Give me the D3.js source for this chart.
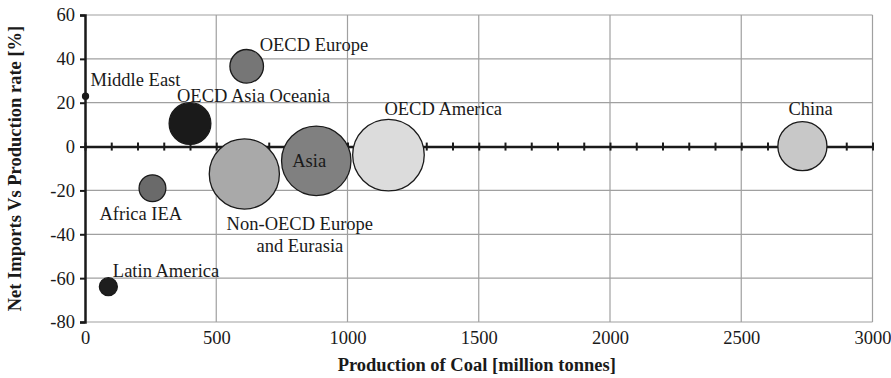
<!DOCTYPE html>
<html>
<head>
<meta charset="utf-8">
<script src="https://cdn.jsdelivr.net/npm/d3@7"></script>
<style>
  html, body { margin: 0; padding: 0; background: #fff; }
  svg text { font-family: "Liberation Serif", "Times New Roman", Tinos, "DejaVu Serif", serif !important; }
</style>
</head>
<body>
<svg id="chart" width="891" height="378"></svg>
<script>
// Regional coal data: production, net imports share, bubble size
const regions = ["Middle East", "OECD Europe", "OECD Asia Oceania", "Africa IEA", "Latin America",
                 "Non-OECD Europe and Eurasia", "Asia", "OECD America", "China"];
const production = [2, 616, 400, 257, 89, 607, 881, 1156, 2733];
const netImports = [23, 36.6, 10.5, -19, -63.9, -12.5, -6.5, -3.9, 0.2];
const bubbleSize = [0.7, 22, 34, 14, 6.3, 96, 94, 100, 47];
const fills = ["#1a1a1a", "#767676", "#1a1a1a", "#6a6a6a", "#1e1e1e", "#a9a9a9", "#808080", "#dcdcdc", "#c8c8c8"];
const xTicks = [0, 500, 1000, 1500, 2000, 2500, 3000];
const yTicks = [-80, -60, -40, -20, 0, 20, 40, 60];

const labelLines = [["Middle East"], ["OECD Europe"], ["OECD Asia Oceania"], ["Africa IEA"], ["Latin America"],
                    ["Non-OECD Europe", "and Eurasia"], ["Asia"], ["OECD America"], ["China"]];

const svg = d3.select("#chart");
const margin = { left: 85, right: 18, top: 15, bottom: 56 };
const W = 891, H = 378;
const FS = 18.5;

const x = d3.scaleLinear().domain([0, 3000]).range([margin.left, W - margin.right - 0.5]);
const y = d3.scaleLinear().domain([-80, 60]).range([H - margin.bottom, margin.top]);
const r = d3.scaleSqrt().domain([0, 100]).range([0, 35.8]);

// Gridlines
const grid = svg.append("g");
grid.selectAll("line.h").data(yTicks).join("line")
  .attr("x1", x(0)).attr("x2", x(3000))
  .attr("y1", d => y(d)).attr("y2", d => y(d))
  .attr("stroke", "#a0a0a0").attr("stroke-width", 1.2);
grid.selectAll("line.v").data(xTicks.filter(d => d > 0)).join("line")
  .attr("x1", d => x(d)).attr("x2", d => x(d))
  .attr("y1", y(60)).attr("y2", y(-80))
  .attr("stroke", "#a0a0a0").attr("stroke-width", 1.2);

// Left axis with outer ticks
const yAxis = d3.axisLeft(y).tickValues(yTicks).tickSize(5).tickPadding(5).tickFormat(d => String(d));
const gy = svg.append("g").attr("transform", `translate(${x(0)},0)`).call(yAxis);
gy.select(".domain").attr("stroke", "#1a1a1a").attr("stroke-width", 2.5);
gy.selectAll(".tick line").attr("stroke", "#1a1a1a").attr("stroke-width", 2);
gy.selectAll(".tick text").attr("font-size", FS).attr("fill", "#1a1a1a");

// Bottom tick labels (no axis line; bottom gridline acts as the frame)
const xAxis = d3.axisBottom(x).tickValues(xTicks).tickSize(0).tickPadding(9).tickFormat(d => String(d));
const gx = svg.append("g").attr("transform", `translate(0,${y(-80)})`).call(xAxis);
gx.select(".domain").remove();
gx.selectAll(".tick text").attr("font-size", FS).attr("fill", "#1a1a1a");

// Zero line with crossing ticks every 100
const zeroAxis = d3.axisBottom(x).tickValues(d3.range(0, 3001, 100)).tickSizeInner(0).tickSizeOuter(0).tickFormat("");
const gz = svg.append("g").attr("transform", `translate(0,${y(0)})`).call(zeroAxis);
gz.select(".domain").attr("stroke", "#1a1a1a").attr("stroke-width", 2.5);
gz.selectAll(".tick line").attr("y1", -4).attr("y2", 4).attr("stroke", "#1a1a1a").attr("stroke-width", 2);

// Bubbles
const data = regions.map((name, i) => ({ name, px: production[i], ny: netImports[i], s: bubbleSize[i], fill: fills[i], lines: labelLines[i] }));
svg.append("g").selectAll("circle").data(data).join("circle")
  .attr("cx", d => x(d.px)).attr("cy", d => y(d.ny)).attr("r", d => r(d.s))
  .attr("fill", d => d.fill).attr("stroke", "#1a1a1a").attr("stroke-width", 1.3);

// Data labels, offset from each bubble centre
const labelPos = {
  "Middle East": { dx: 5, dy: -10, anchor: "start" },
  "OECD Europe": { dx: 13, dy: -15, anchor: "start" },
  "OECD Asia Oceania": { dx: -13, dy: -22, anchor: "start" },
  "Africa IEA": { dx: -53, dy: 32, anchor: "start" },
  "Latin America": { dx: 4.5, dy: -10, anchor: "start" },
  "Non-OECD Europe and Eurasia": { dx: 55.5, dy: 56, anchor: "middle", lh: 21.7 },
  "Asia": { dx: -24, dy: 6, anchor: "start" },
  "OECD America": { dx: -4, dy: -40, anchor: "start" },
  "China": { dx: -14, dy: -31, anchor: "start" }
};
const labels = svg.append("g").attr("font-size", FS).attr("fill", "#1a1a1a");
data.forEach(d => {
  const p = labelPos[d.name];
  const t = labels.append("text")
    .attr("x", x(d.px) + p.dx).attr("y", y(d.ny) + p.dy)
    .attr("text-anchor", p.anchor);
  d.lines.forEach((ln, k) => {
    t.append("tspan").attr("x", x(d.px) + p.dx).attr("dy", k === 0 ? 0 : (p.lh || 20)).text(ln);
  });
});

// Axis titles
svg.append("text")
  .attr("x", (x(0) + x(3000)) / 2 - 2).attr("y", 371)
  .attr("text-anchor", "middle").attr("font-size", 18.5).attr("font-weight", "bold").attr("fill", "#1a1a1a")
  .text("Production of Coal [million tonnes]");
svg.append("text")
  .attr("transform", `translate(21,${(y(60) + y(-80)) / 2}) rotate(-90)`)
  .attr("text-anchor", "middle").attr("font-size", 18.5).attr("font-weight", "bold").attr("fill", "#1a1a1a")
  .text("Net Imports Vs Production rate [%]");
</script>
</body>
</html>
